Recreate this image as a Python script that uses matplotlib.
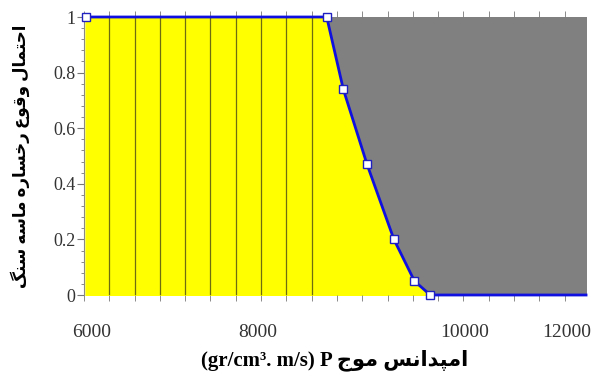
import numpy as np
import matplotlib.pyplot as plt
from matplotlib.ticker import FixedLocator, MultipleLocator

# P-wave impedance vs probability of sandstone facies
impedance = [5920, 8970, 9180, 9480, 9820, 10080, 10280]
probability = [1, 1, 0.74, 0.47, 0.2, 0.05, 0]
x_min, x_max = 5900, 12250

xtick_pos = [6000, 8100, 10710, 12000]
xtick_labels = ['6000', '8000', '10000', '12000']
ytick_pos = [0, 0.2, 0.4, 0.6, 0.8, 1]
ytick_labels = ['0', '0.2', '0.4', '0.6', '0.8', '1']

ylabel_fa = 'احتمال وقوع رخساره ماسه سنگ'
xlabel_fa = 'امپدانس موج'
xlabel_unit = '(gr/cm³. m/s) P '

# minimal persian shaping (no arabic_reshaper available)
FORMS = {
    'ا': ('\uFE8D', '\uFE8E', None, None),
    'د': ('\uFEA9', '\uFEAA', None, None),
    'ر': ('\uFEAD', '\uFEAE', None, None),
    'و': ('\uFEED', '\uFEEE', None, None),
    'ح': ('\uFEA1', '\uFEA2', '\uFEA3', '\uFEA4'),
    'ت': ('\uFE95', '\uFE96', '\uFE97', '\uFE98'),
    'م': ('\uFEE1', '\uFEE2', '\uFEE3', '\uFEE4'),
    'ل': ('\uFEDD', '\uFEDE', '\uFEDF', '\uFEE0'),
    'ق': ('\uFED5', '\uFED6', '\uFED7', '\uFED8'),
    'ع': ('\uFEC9', '\uFECA', '\uFECB', '\uFECC'),
    'خ': ('\uFEA5', '\uFEA6', '\uFEA7', '\uFEA8'),
    'س': ('\uFEB1', '\uFEB2', '\uFEB3', '\uFEB4'),
    'ه': ('\uFEE9', '\uFEEA', '\uFEEB', '\uFEEC'),
    'ن': ('\uFEE5', '\uFEE6', '\uFEE7', '\uFEE8'),
    'گ': ('\uFB92', '\uFB93', '\uFB94', '\uFB95'),
    'پ': ('\uFB56', '\uFB57', '\uFB58', '\uFB59'),
    'ج': ('\uFE9D', '\uFE9E', '\uFE9F', '\uFEA0'),
}


def shape(text):
    out = []
    for i, c in enumerate(text):
        if c not in FORMS:
            out.append(c)
            continue
        prev = text[i - 1] if i > 0 else ''
        nxt = text[i + 1] if i + 1 < len(text) else ''
        jp = prev in FORMS and FORMS[prev][2] is not None
        jn = FORMS[c][2] is not None and nxt in FORMS
        f = FORMS[c]
        if jp and jn:
            out.append(f[3])
        elif jp:
            out.append(f[1])
        elif jn:
            out.append(f[2])
        else:
            out.append(f[0])
    return ''.join(out)[::-1]


plt.rcParams['font.family'] = ['Liberation Serif', 'DejaVu Sans']

fig = plt.figure(figsize=(6.02, 3.77), dpi=100)
ax = fig.add_axes([0.1395, 0.2175, 0.834, 0.7374])

x_line = impedance + [x_max]
y_line = probability + [0]

ax.fill_between(x_line, 0, y_line, color='#ffff00', zorder=1)
ax.fill_between(x_line, y_line, 1, where=[x >= impedance[1] for x in x_line],
                color='#808080', zorder=1)
# dark vertical strips in the yellow part
for gx in np.arange(x_min + 320, impedance[1], 320):
    ax.plot([gx, gx], [0, 1], color='#6e6e10', lw=0.9, zorder=2)

ax.plot(x_line, y_line, color='#1010e0', lw=2, zorder=3, clip_on=False)
ax.plot(impedance, probability, linestyle='none', marker='s', markersize=5.5,
        markerfacecolor='white', markeredgecolor='#2020c0', markeredgewidth=1,
        zorder=4, clip_on=False)

ax.set_xlim(x_min, x_max)
ax.set_ylim(0, 1)

ax.set_xticks(xtick_pos)
ax.set_xticklabels(xtick_labels, fontsize=14, color='#333333')
ax.xaxis.set_minor_locator(FixedLocator(np.arange(x_min, x_max, 320)))
ax.tick_params(axis='x', which='major', length=0, pad=21)
ax.tick_params(axis='x', which='minor', length=4, top=True, bottom=True,
               direction='out', color='#777777')

ax.set_yticks(ytick_pos)
ax.set_yticklabels(ytick_labels, fontsize=13, color='#333333')
ax.yaxis.set_minor_locator(MultipleLocator(0.04))
ax.tick_params(axis='y', which='major', length=5, pad=1, color='#777777')
ax.tick_params(axis='y', which='minor', length=2.5, color='#777777')

for side in ['top', 'right', 'bottom']:
    ax.spines[side].set_visible(False)
ax.spines['left'].set_color('#888888')

ax.set_xlabel(xlabel_unit + shape(xlabel_fa), fontsize=15, fontweight='bold',
              labelpad=6)
ax.set_ylabel(shape(ylabel_fa), fontsize=12, fontweight='bold', labelpad=17)

plt.savefig('out.png')
